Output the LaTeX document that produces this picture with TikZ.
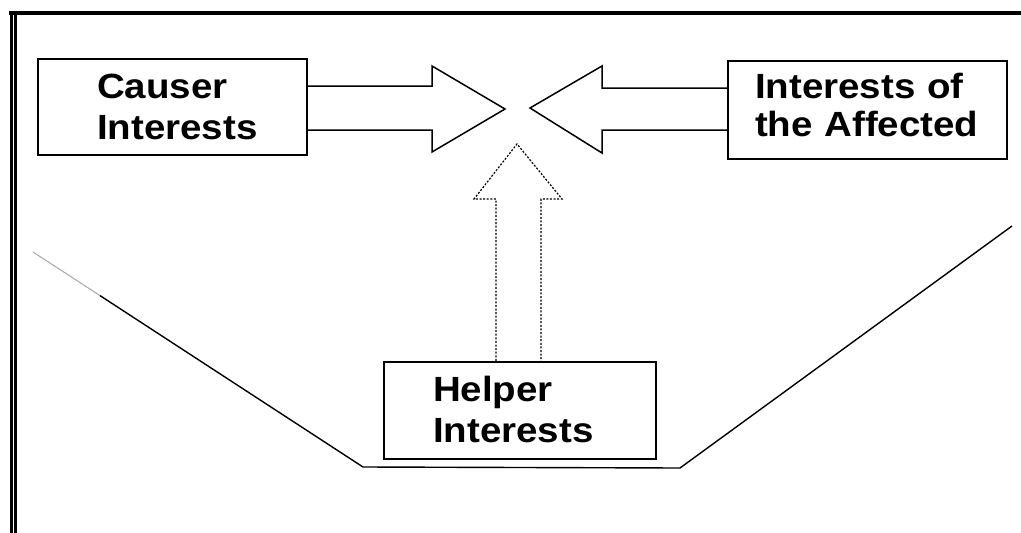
\documentclass[tikz,border=0pt]{standalone}
\usepackage{fontspec}
\setmainfont{Liberation Sans}
\newfontfamily\lblfont[FakeStretch=1.1]{Liberation Sans}
\usetikzlibrary{calc}
\begin{document}
\begin{tikzpicture}[x=1pt,y=-1pt,
  box/.style={draw=black, line width=2.2pt, fill=white, align=left, inner ysep=0pt,
    font=\lblfont\fontsize{35}{41}\selectfont\bfseries},
  blockarrow/.style={draw=black, line width=1.5pt, fill=white, line join=miter},
  dotarrow/.style={draw=black, line width=1.2pt, fill=white, dash pattern=on 2pt off 1.6pt},
  trough/.style={draw=black, line width=1.4pt},
  frame/.style={draw=black}]
\useasboundingbox (0,0) rectangle (1021,533);
% frame
\draw[frame, line width=4pt] (9,12.5) -- (1021,12.5);
\draw[frame, line width=3pt] (11,11) -- (11,533);
\draw[frame, line width=2.5pt] (15.5,14) -- (15.5,533);
% trough
\draw[trough, black!35, line width=1pt] (33,252) -- (100,295.6);
\draw[trough] (100,295.6) -- (363,467) -- (680,468) -- (1012,226);
% boxes
\node[box, text width=151pt, inner xsep=59pt, minimum height=96pt] (causer) at (172.5,107) {Causer\\Interests};
\node[box, text width=225pt, inner xsep=27pt, minimum height=98pt] (affected) at (867.5,110) {Interests of\\[-3pt]the Affected\rule[-11pt]{0pt}{0pt}};
\node[box, text width=174pt, inner xsep=49pt, minimum height=97pt] (helper) at (520,410.5) {Helper\\Interests\rule[-3pt]{0pt}{0pt}};
% arrows
\draw[blockarrow] (causer.east |- 0,86) -- (432,86) -- (432,66) -- (505,109) -- (432,152) -- (432,130) -- (causer.east |- 0,130);
\draw[blockarrow] (affected.west |- 0,88) -- (602,88) -- (602,66) -- (530,108) -- (602,153) -- (602,130) -- (affected.west |- 0,130);
\draw[dotarrow] (496,0 |- helper.north) -- (496,199) -- (474,199) -- (517,144) -- (562,199) -- (541,199) -- (541,0 |- helper.north);
\end{tikzpicture}
\end{document}
